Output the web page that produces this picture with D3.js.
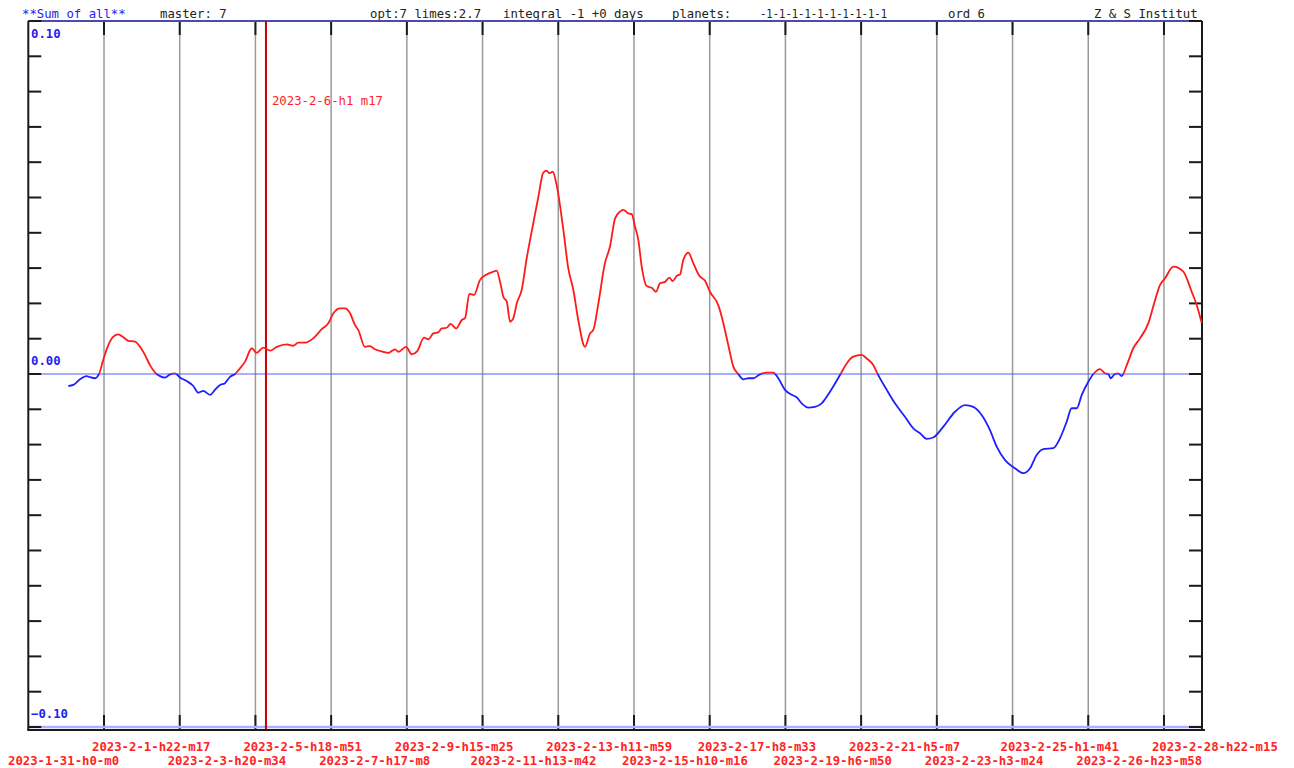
<!DOCTYPE html>
<html lang="en">
<head>
    <meta charset="UTF-8">
    <title>Sum of all</title>
    <script src="https://d3js.org/d3.v7.min.js"></script>
    <style>
        body { margin: 0; background: #fff; }
        svg text { font-family: "DejaVu Sans Mono", monospace; font-size: 12.3px; }
        .grid { stroke: #9a9a9a; stroke-width: 1.5px; }
        .tick { stroke: #1a1a1a; stroke-width: 2px; }
        .datelabel { fill: #ff2424; font-weight: bold; }
        .vlabel { fill: #2222ee; font-weight: bold; }
    </style>
</head>
<body>
    <svg id="chart" width="1294" height="768"></svg>

    <script>
        // header texts
        const headerTexts = [
            { text: "**Sum of all**", x: 22, color: "#2222ee" },
            { text: "master: 7", x: 160, color: "#222" },
            { text: "opt:7 limes:2.7", x: 370, color: "#222" },
            { text: "integral -1 +0 days", x: 503, color: "#222" },
            { text: "planets:", x: 672, color: "#222" },
            { text: "-1-1-1-1-1-1-1-1-1-1", x: 760, color: "#222", len: 127 },
            { text: "ord 6", x: 948, color: "#222" },
            { text: "Z & S Institut", x: 1094, color: "#222" }
        ];

        // x-axis tick labels (one per grid line)
        const tickLabels = [
            "2023-1-31-h0-m0", "2023-2-1-h22-m17", "2023-2-3-h20-m34", "2023-2-5-h18-m51",
            "2023-2-7-h17-m8", "2023-2-9-h15-m25", "2023-2-11-h13-m42", "2023-2-13-h11-m59",
            "2023-2-15-h10-m16", "2023-2-17-h8-m33", "2023-2-19-h6-m50", "2023-2-21-h5-m7",
            "2023-2-23-h3-m24", "2023-2-25-h1-m41", "2023-2-26-h23-m58", "2023-2-28-h22-m15"
        ];

        const markerLabel = "2023-2-6-h1 m17";
        const markerDate = new Date(2023, 1, 6, 1, 17);

        const yTicks = d3.range(-10, 11).map(d => d / 100);
        const yLabels = [0.10, 0.00, -0.10];

        // series: hours since 2023-1-31 00:00, value
        const hours = [
            24.5, 27.5, 31.6, 35.7, 37.7, 40.8, 43.4, 45.8, 48.9, 52.0, 55.0, 58.1, 61.1, 65.2, 68.3, 71.3,
            74.4, 77.5, 80.5, 83.6, 86.6, 89.7, 92.7, 96.8, 100.9, 103.9, 107.0, 111.1, 114.1, 117.2, 120.2, 123.3,
            126.4, 129.4, 132.5, 136.6, 139.6, 143.7, 147.8, 151.9, 158.0, 162.0, 165.1, 169.2, 174.2, 179.4, 183.4, 186.5,
            190.5, 193.6, 196.7, 199.7, 201.7, 205.8, 208.9, 211.9, 217.0, 220.1, 224.2, 226.2, 230.9, 234.4, 237.8, 241.9,
            244.5, 247.6, 250.6, 252.7, 255.8, 258.2, 261.5, 265.0, 267.0, 269.6, 272.5, 276.1, 280.2, 284.3, 286.3, 288.4,
            290.4, 292.5, 294.5, 296.5, 298.6, 301.6, 304.7, 308.7, 311.8, 314.8, 316.9, 318.5, 320.6, 323.0, 327.1, 330.1,
            333.2, 336.2, 340.3, 343.4, 345.4, 348.5, 352.5, 355.6, 358.7, 361.7, 363.7, 366.8, 368.9, 370.9, 372.9, 375.0,
            378.0, 381.1, 383.7, 386.2, 389.2, 391.9, 393.9, 396.4, 398.4, 400.4, 403.5, 406.5, 410.2, 413.7, 416.7, 421.8,
            424.9, 427.9, 431.0, 434.0, 437.1, 440.2, 443.2, 447.3, 451.4, 455.4, 458.5, 462.6, 466.7, 469.7, 472.8, 476.8,
            480.9, 485.0, 490.1, 496.2, 500.3, 504.3, 509.5, 512.5, 516.6, 519.6, 524.8, 529.8, 535.9, 541.0, 545.1, 549.2,
            553.2, 559.4, 566.5, 572.6, 577.7, 582.8, 587.9, 592.0, 597.1, 603.2, 608.3, 612.4, 616.5, 620.5, 626.6, 630.7,
            634.8, 637.8, 640.9, 644.0, 648.0, 651.1, 655.2, 658.2, 660.2, 661.7, 664.3, 666.3, 668.4, 671.5, 675.5, 679.6,
            684.7, 687.7, 691.8, 694.9, 700.0, 706.1, 711.2, 714.3, 717.3
        ];
        const values = [
            -0.0034, -0.0031, -0.0015, -0.0006, -0.0009, -0.0012, 0.0002, 0.0040, 0.0082, 0.0106, 0.0112, 0.0104, 0.0094, 0.0092, 0.0077, 0.0054,
            0.0025, 0.0004, -0.0006, -0.0010, -0.0001, 0.0002, -0.0010, -0.0020, -0.0034, -0.0053, -0.0048, -0.0059, -0.0045, -0.0031, -0.0026, -0.0008,
            0.0000, 0.0016, 0.0035, 0.0073, 0.0060, 0.0075, 0.0066, 0.0077, 0.0084, 0.0080, 0.0089, 0.0089, 0.0101, 0.0127, 0.0144, 0.0172,
            0.0186, 0.0186, 0.0172, 0.0139, 0.0125, 0.0077, 0.0079, 0.0070, 0.0063, 0.0060, 0.0070, 0.0063, 0.0077, 0.0056, 0.0065, 0.0103,
            0.0098, 0.0115, 0.0118, 0.0129, 0.0131, 0.0142, 0.0129, 0.0153, 0.0158, 0.0227, 0.0224, 0.0266, 0.0282, 0.0290, 0.0293, 0.0261,
            0.0219, 0.0205, 0.0148, 0.0158, 0.0200, 0.0238, 0.0328, 0.0427, 0.0502, 0.0570, 0.0576, 0.0569, 0.0573, 0.0535, 0.0408, 0.0299,
            0.0238, 0.0153, 0.0077, 0.0115, 0.0125, 0.0200, 0.0314, 0.0361, 0.0441, 0.0460, 0.0465, 0.0455, 0.0453, 0.0417, 0.0380, 0.0304,
            0.0249, 0.0244, 0.0233, 0.0257, 0.0261, 0.0273, 0.0263, 0.0278, 0.0282, 0.0323, 0.0344, 0.0314, 0.0278, 0.0264, 0.0233, 0.0195,
            0.0144, 0.0082, 0.0021, 0.0000, -0.0015, -0.0012, -0.0012, -0.0001, 0.0004, 0.0004, -0.0012, -0.0045, -0.0059, -0.0066, -0.0083, -0.0095,
            -0.0093, -0.0083, -0.0050, -0.0003, 0.0030, 0.0049, 0.0054, 0.0044, 0.0025, -0.0003, -0.0045, -0.0083, -0.0121, -0.0154, -0.0168, -0.0184,
            -0.0180, -0.0149, -0.0107, -0.0088, -0.0093, -0.0116, -0.0159, -0.0206, -0.0244, -0.0267, -0.0281, -0.0267, -0.0229, -0.0213, -0.0210, -0.0182,
            -0.0135, -0.0097, -0.0097, -0.0059, -0.0022, 0.0000, 0.0014, 0.0002, 0.0000, -0.0012, 0.0000, 0.0002, -0.0006, 0.0025, 0.0073, 0.0101,
            0.0144, 0.0191, 0.0252, 0.0271, 0.0304, 0.0290, 0.0233, 0.0195, 0.0145
        ];

        const parseLabel = s => {
            const m = s.match(/(\d+)-(\d+)-(\d+)-h(\d+)-m(\d+)/);
            return new Date(+m[1], +m[2] - 1, +m[3], +m[4], +m[5]);
        };

        const t0 = new Date(2023, 0, 31, 0, 0);
        const tEnd = new Date(2023, 2, 1, 21, 30);
        const plotLeft = 28.3, plotRight = 1202, plotTop = 21, plotBottom = 730;

        const svg = d3.select("#chart");
        const x = d3.scaleTime().domain([t0, tEnd]).range([plotLeft, plotRight]);
        const y = d3.scaleLinear().domain([-0.1, 0.1]).range([727, plotTop]);

        // header
        svg.selectAll(".header")
            .data(headerTexts)
            .enter()
            .append("text")
            .attr("class", "header")
            .attr("x", d => d.x)
            .attr("y", 18)
            .attr("fill", d => d.color)
            .attr("textLength", d => d.len || null)
            .attr("lengthAdjust", "spacingAndGlyphs")
            .text(d => d.text);

        // grid lines
        const tickDates = tickLabels.map(parseLabel);
        const grid = svg.append("g");
        tickDates.slice(1).forEach(d => {
            grid.append("line").attr("class", "grid")
                .attr("x1", x(d)).attr("x2", x(d)).attr("y1", plotTop).attr("y2", plotBottom);
            grid.append("line").attr("class", "tick")
                .attr("x1", x(d)).attr("x2", x(d)).attr("y1", plotTop).attr("y2", plotTop + 14);
            grid.append("line").attr("class", "tick")
                .attr("x1", x(d)).attr("x2", x(d)).attr("y1", plotBottom - 15).attr("y2", plotBottom);
        });

        // horizontal reference lines
        svg.append("line")
            .attr("x1", plotLeft).attr("x2", plotRight).attr("y1", y(0.1)).attr("y2", y(0.1))
            .attr("stroke", "#4c4cae").attr("stroke-width", 2);
        svg.append("line")
            .attr("x1", plotLeft).attr("x2", plotRight).attr("y1", y(0)).attr("y2", y(0))
            .attr("stroke", "#5a5aff").attr("stroke-width", 1);
        svg.append("line")
            .attr("x1", plotLeft).attr("x2", plotRight).attr("y1", y(-0.1)).attr("y2", y(-0.1))
            .attr("stroke", "#aab0ff").attr("stroke-width", 2.5);

        // marker line
        svg.append("line")
            .attr("x1", x(markerDate)).attr("x2", x(markerDate)).attr("y1", plotTop).attr("y2", plotBottom)
            .attr("stroke", "#cc0000").attr("stroke-width", 2);
        svg.append("text")
            .attr("class", "datelabel")
            .attr("x", x(markerDate) + 6)
            .attr("y", 105)
            .style("font-weight", "normal")
            .text(markerLabel);

        // axes frame
        svg.append("line").attr("class", "tick")
            .attr("x1", plotLeft).attr("x2", plotLeft).attr("y1", plotTop).attr("y2", plotBottom);
        svg.append("line").attr("class", "tick")
            .attr("x1", plotRight).attr("x2", plotRight).attr("y1", plotTop).attr("y2", plotBottom);
        svg.append("line").attr("class", "tick")
            .attr("x1", plotLeft - 1).attr("x2", plotRight + 3).attr("y1", plotBottom).attr("y2", plotBottom);

        // y ticks both sides
        svg.selectAll(".ytl")
            .data(yTicks)
            .enter()
            .append("line")
            .attr("class", "tick")
            .attr("x1", plotLeft).attr("x2", plotLeft + 13)
            .attr("y1", d => y(d)).attr("y2", d => y(d));
        svg.selectAll(".ytr")
            .data(yTicks)
            .enter()
            .append("line")
            .attr("class", "tick")
            .attr("x1", plotRight - 13).attr("x2", plotRight)
            .attr("y1", d => y(d)).attr("y2", d => y(d));

        svg.selectAll(".vlabel")
            .data(yLabels)
            .enter()
            .append("text")
            .attr("class", "vlabel")
            .attr("x", 31)
            .attr("y", d => d > 0 ? y(d) + 17 : y(d) - 9)
            .text(d => d3.format(".2f")(d));

        // x labels, alternating rows
        svg.selectAll(".xl")
            .data(tickLabels)
            .enter()
            .append("text")
            .attr("class", "datelabel")
            .attr("x", (d, i) => i === 0 ? 8 : x(tickDates[i]) - 12)
            .attr("y", (d, i) => i % 2 ? 751 : 765)
            .text(d => d);

        // curve, red above zero and blue below
        const pts = hours.map((h, i) => [new Date(+t0 + h * 3600e3), values[i]]);
        const line = d3.line().x(d => x(d[0])).y(d => y(d[1])).curve(d3.curveMonotoneX);

        const defs = svg.append("defs");
        defs.append("clipPath").attr("id", "pos")
            .append("rect").attr("x", 0).attr("y", 0).attr("width", 1294).attr("height", y(0));
        defs.append("clipPath").attr("id", "neg")
            .append("rect").attr("x", 0).attr("y", y(0)).attr("width", 1294).attr("height", 768 - y(0));

        svg.append("path").datum(pts)
            .attr("d", line).attr("fill", "none")
            .attr("stroke", "#ff1a1a").attr("stroke-width", 1.8)
            .attr("clip-path", "url(#pos)");
        svg.append("path").datum(pts)
            .attr("d", line).attr("fill", "none")
            .attr("stroke", "#1f1fff").attr("stroke-width", 1.8)
            .attr("clip-path", "url(#neg)");
    </script>
</body>
</html>
